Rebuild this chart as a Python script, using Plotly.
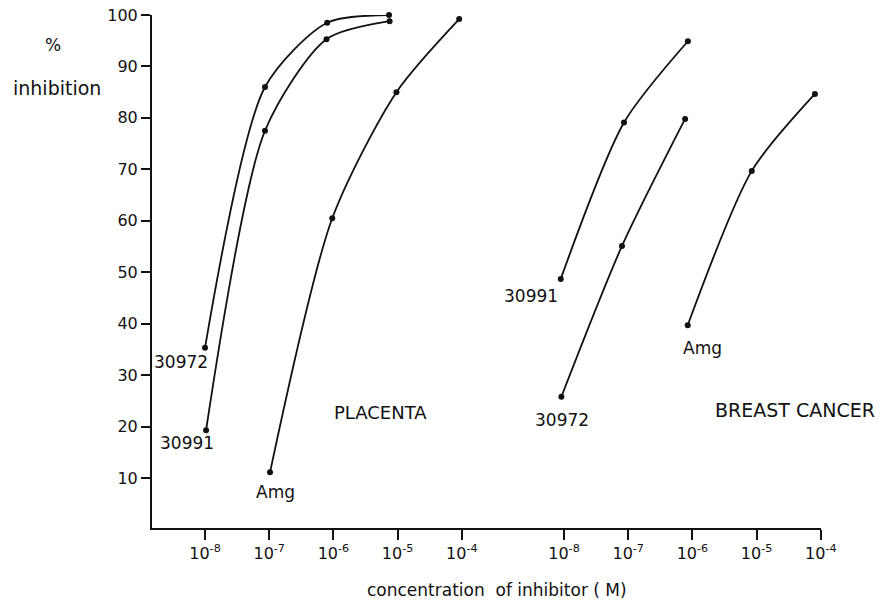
import plotly.graph_objects as go

# ---------------- data (concentration in M, % inhibition) ----------------
placenta_30972_conc = [1.0e-8, 8.6e-8, 8.0e-7, 7.35e-6]
placenta_30972_inh = [35.3, 86.0, 98.5, 100.0]
placenta_30991_conc = [1.04e-8, 8.6e-8, 7.8e-7, 7.5e-6]
placenta_30991_inh = [19.3, 77.5, 95.3, 98.8]
placenta_amg_conc = [1.03e-7, 9.6e-7, 9.6e-6, 9.1e-5]
placenta_amg_inh = [11.1, 60.5, 85.0, 99.2]

breast_30991_conc = [8.9e-9, 8.6e-8, 8.5e-7]
breast_30991_inh = [48.7, 79.1, 94.9]
breast_30972_conc = [9.1e-9, 8.0e-8, 7.7e-7]
breast_30972_inh = [25.8, 55.1, 79.8]
breast_amg_conc = [8.45e-7, 8.4e-6, 8.1e-5]
breast_amg_inh = [39.7, 69.7, 84.65]

x_tickvals = [1e-8, 1e-7, 1e-6, 1e-5, 1e-4]
x_ticktext = ["10<sup>-8</sup>", "10<sup>-7</sup>", "10<sup>-6</sup>",
              "10<sup>-5</sup>", "10<sup>-4</sup>"]
y_tickvals = [10, 20, 30, 40, 50, 60, 70, 80, 90, 100]

# ---------------- layout geometry ----------------
# the page body adds an 8px offset, so figure coordinates = screen - 8
OFF = 8
W, H = 884, 606
ML = 152 - OFF
MR = W - (821 - OFF)
MT = 15 - OFF
MB = H - (528 - OFF)
PW, PH = W - ML - MR, H - MT - MB
SPLIT = (514 - OFF - ML) / PW    # boundary between the two concentration axes

FONT = "DejaVu Sans"
BLACK = "#111111"


def px(x):
    return (x - OFF - ML) / PW


def py(y):
    return (H - MB - (y - OFF)) / PH


fig = go.Figure()


def curve(xs, ys, axis):
    fig.add_trace(go.Scatter(
        x=xs, y=ys, xaxis=axis, yaxis="y", mode="lines+markers",
        line=dict(color=BLACK, width=1.8, shape="spline", smoothing=0.75),
        marker=dict(color=BLACK, size=6),
        cliponaxis=False,
        showlegend=False, hoverinfo="skip"))


curve(placenta_30972_conc, placenta_30972_inh, "x")
curve(placenta_30991_conc, placenta_30991_inh, "x")
curve(placenta_amg_conc, placenta_amg_inh, "x")
curve(breast_30991_conc, breast_30991_inh, "x2")
curve(breast_30972_conc, breast_30972_inh, "x2")
curve(breast_amg_conc, breast_amg_inh, "x2")

axis_common = dict(
    type="log", tickmode="array", tickvals=x_tickvals, ticktext=x_ticktext,
    ticks="outside", ticklen=10, tickwidth=1.8, tickcolor=BLACK,
    showline=True, linecolor=BLACK, linewidth=2, showgrid=False, zeroline=False,
    tickfont=dict(family=FONT, size=16, color=BLACK), anchor="y",
    automargin=False, ticklabeloverflow="allow",
)

fig.update_layout(
    width=W, height=H,
    margin=dict(l=ML, r=MR, t=MT, b=MB, autoexpand=False),
    paper_bgcolor="white", plot_bgcolor="white",
    font=dict(family=FONT, color=BLACK),
    xaxis=dict(domain=[0, SPLIT], range=[-8.8255, -3.187], **axis_common),
    xaxis2=dict(domain=[SPLIT, 1], range=[-8.779, -3.997], **axis_common),
    yaxis=dict(range=[0.28, 100.0], tickmode="array", tickvals=y_tickvals,
               ticks="outside", ticklen=9, tickwidth=1.8, tickcolor=BLACK,
               showline=True, linecolor=BLACK, linewidth=2, showgrid=False,
               zeroline=False, anchor="x", automargin=False,
               ticklabeloverflow="allow",
               tickfont=dict(family=FONT, size=16, color=BLACK)),
    showlegend=False,
)

labels = [
    ("30972", 181, 362, 17),
    ("30991", 187, 443, 17),
    ("Amg", 275, 492, 17),
    ("PLACENTA", 380, 412, 18),
    ("30991", 531, 296, 17),
    ("30972", 562, 420, 17),
    ("Amg", 702, 348, 17),
    ("BREAST CANCER", 795, 410, 19),
    ("%", 53, 45, 17),
    ("inhibition", 57, 88, 19),
    ("concentration  of inhibitor ( M)", 497, 590, 17),
]
for text, x, y, s in labels:
    fig.add_annotation(text=text, x=px(x), y=py(y), xref="paper", yref="paper",
                       showarrow=False, xanchor="center", yanchor="middle",
                       font=dict(family=FONT, size=s, color=BLACK))

fig.write_html("out.html")
